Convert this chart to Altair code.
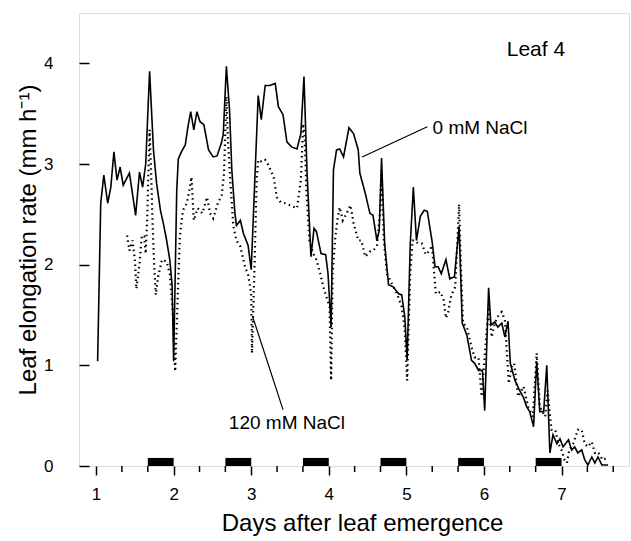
import altair as alt
import pandas as pd

# ---- data ----
days_0 = [1.02, 1.06, 1.10, 1.15, 1.19, 1.23, 1.27, 1.31, 1.35, 1.39, 1.43, 1.47, 1.51, 1.56, 1.60,
          1.64, 1.69, 1.74, 1.78, 1.83, 1.87, 1.91, 1.95, 1.98, 2.00, 2.04, 2.06, 2.10, 2.15, 2.18,
          2.22, 2.26, 2.30, 2.34, 2.39, 2.45, 2.51, 2.56, 2.62, 2.64, 2.68, 2.72, 2.75, 2.79, 2.81,
          2.86, 2.90, 2.96, 3.00, 3.05, 3.09, 3.13, 3.18, 3.24, 3.31, 3.35, 3.41, 3.46, 3.52, 3.59,
          3.64, 3.68, 3.72, 3.77, 3.81, 3.84, 3.90, 3.96, 3.99, 4.03, 4.06, 4.10, 4.14, 4.19, 4.26,
          4.32, 4.38, 4.40, 4.47, 4.53, 4.57, 4.62, 4.65, 4.68, 4.72, 4.77, 4.83, 4.90, 4.94, 4.98,
          5.01, 5.05, 5.09, 5.13, 5.18, 5.23, 5.27, 5.33, 5.37, 5.41, 5.45, 5.51, 5.56, 5.62, 5.68,
          5.72, 5.78, 5.84, 5.88, 5.93, 5.98, 6.01, 6.06, 6.09, 6.14, 6.18, 6.23, 6.27, 6.31, 6.34,
          6.40, 6.46, 6.51, 6.55, 6.59, 6.64, 6.68, 6.72, 6.77, 6.81, 6.85, 6.89, 6.94, 6.98, 7.02,
          7.09, 7.13, 7.17, 7.21, 7.26, 7.30, 7.34, 7.39, 7.43, 7.47, 7.52, 7.60]
rate_0 = [1.04, 2.61, 2.89, 2.61, 2.77, 3.12, 2.84, 2.97, 2.79, 2.85, 2.91, 2.70, 2.49, 2.92, 2.77,
          3.00, 3.92, 3.14, 2.81, 2.54, 2.40, 2.24, 2.05, 1.80, 1.04, 2.74, 3.05, 3.12, 3.19, 3.35,
          3.52, 3.34, 3.52, 3.42, 3.39, 3.14, 3.07, 3.08, 3.22, 3.30, 3.97, 3.54, 2.94, 2.51, 2.39,
          2.44, 2.31, 2.19, 1.95, 2.91, 3.68, 3.44, 3.78, 3.78, 3.80, 3.57, 3.49, 3.22, 3.17, 3.15,
          3.30, 3.87, 2.91, 2.08, 2.36, 2.33, 2.11, 2.10, 1.91, 1.38, 2.94, 3.14, 3.15, 3.07, 3.36,
          3.30, 3.14, 2.91, 2.71, 2.51, 2.49, 2.24, 2.34, 3.06, 2.21, 1.80, 1.78, 1.71, 1.70, 1.48,
          1.05, 2.20, 2.77, 2.24, 2.48, 2.54, 2.53, 2.24, 1.98, 1.98, 1.91, 2.05, 1.86, 1.88, 2.38,
          1.42, 1.30, 1.05, 1.02, 0.95, 0.95, 0.55, 1.77, 1.40, 1.43, 1.38, 1.42, 1.28, 1.44, 1.02,
          0.85, 0.75, 0.68, 0.59, 0.54, 0.39, 1.04, 0.54, 0.54, 1.00, 0.13, 0.31, 0.22, 0.27, 0.19,
          0.26, 0.16, 0.19, 0.13, 0.16, 0.06, 0.01, 0.09, 0.03, 0.09, 0.01, 0.01]

days_120 = [1.40, 1.43, 1.47, 1.50, 1.52, 1.56, 1.59, 1.62, 1.64, 1.66, 1.69, 1.71, 1.73, 1.75, 1.77,
            1.80, 1.85, 1.91, 1.95, 1.99, 2.02, 2.06, 2.08, 2.12, 2.17, 2.21, 2.23, 2.26, 2.31, 2.37,
            2.43, 2.47, 2.51, 2.57, 2.62, 2.65, 2.68, 2.70, 2.73, 2.77, 2.81, 2.86, 2.92, 2.96, 3.00,
            3.01, 3.04, 3.07, 3.09, 3.14, 3.18, 3.22, 3.29, 3.33, 3.38, 3.44, 3.50, 3.59, 3.64, 3.67,
            3.69, 3.71, 3.75, 3.80, 3.84, 3.89, 3.93, 3.97, 4.01, 4.03, 4.05, 4.08, 4.11, 4.14, 4.18,
            4.23, 4.28, 4.32, 4.38, 4.42, 4.47, 4.53, 4.57, 4.62, 4.66, 4.68, 4.71, 4.75, 4.82, 4.88,
            4.94, 4.98, 5.01, 5.05, 5.08, 5.11, 5.15, 5.20, 5.25, 5.30, 5.33, 5.38, 5.44, 5.48, 5.51,
            5.54, 5.58, 5.63, 5.68, 5.70, 5.73, 5.78, 5.84, 5.88, 5.93, 5.97, 6.06, 6.10, 6.14, 6.19,
            6.23, 6.27, 6.30, 6.32, 6.36, 6.39, 6.44, 6.51, 6.57, 6.63, 6.68, 6.72, 6.79, 6.82, 6.87,
            6.92, 6.96, 7.00, 7.04, 7.07, 7.10, 7.15, 7.21, 7.26, 7.30, 7.34, 7.39, 7.43, 7.47, 7.53,
            7.58]
rate_120 = [2.29, 2.14, 2.24, 2.05, 1.76, 2.01, 2.29, 2.28, 2.11, 2.48, 3.34, 2.91, 2.38, 1.98, 1.70,
            1.88, 2.05, 2.03, 1.91, 1.52, 0.94, 1.85, 2.28, 2.54, 2.61, 2.77, 2.87, 2.44, 2.56, 2.51,
            2.67, 2.51, 2.46, 2.61, 2.69, 2.91, 3.67, 3.24, 2.84, 2.38, 2.24, 2.18, 1.98, 1.90, 1.71,
            1.12, 1.91, 2.84, 3.04, 3.02, 3.04, 2.99, 2.87, 2.67, 2.62, 2.61, 2.59, 2.56, 2.84, 3.40,
            3.27, 2.74, 2.24, 2.11, 2.05, 1.91, 1.78, 1.68, 1.58, 0.85, 1.91, 2.24, 2.44, 2.57, 2.44,
            2.51, 2.59, 2.41, 2.24, 2.24, 2.08, 2.13, 2.14, 2.18, 2.51, 2.94, 2.24, 1.91, 1.80, 1.71,
            1.58, 1.35, 0.85, 1.91, 2.24, 2.24, 2.21, 2.21, 2.10, 2.14, 2.19, 1.71, 1.73, 1.65, 1.47,
            1.53, 1.70, 1.78, 2.60, 2.05, 1.42, 1.38, 1.18, 1.08, 1.08, 0.69, 1.58, 1.28, 1.42, 1.50,
            1.53, 1.45, 1.08, 0.82, 0.99, 1.02, 0.69, 0.79, 0.59, 0.49, 1.12, 0.59, 0.49, 0.75, 0.36,
            0.36, 0.22, 0.16, 0.06, 0.03, 0.16, 0.22, 0.36, 0.36, 0.22, 0.19, 0.24, 0.13, 0.14, 0.06,
            0.08]

night_start = [1.667, 2.667, 3.667, 4.667, 5.667, 6.667]
night_end = [2.0, 3.0, 4.0, 5.0, 6.0, 7.0]
night_height = 0.08

x_major_ticks = [1, 2, 3, 4, 5, 6, 7]
x_minor_ticks = [1 + k / 3 for k in range(21) if k % 3 != 0]
y_tick_values = [0, 1, 2, 3, 4]

title_text = ["Leaf 4"]
title_day = [6.67]
title_rate = [4.13]

labels_text = ["0 mM NaCl", "120 mM NaCl"]
labels_day = [5.95, 3.46]
labels_rate = [3.36, 0.43]

leader_day = [4.43, 3.02]
leader_rate = [3.07, 1.48]
leader_day2 = [5.27, 3.41]
leader_rate2 = [3.37, 0.56]

FONT = "Liberation Sans"

df0 = pd.DataFrame({"day": days_0, "rate": rate_0})
df120 = pd.DataFrame({"day": days_120, "rate": rate_120})
dfn = pd.DataFrame({"day": night_start, "day2": night_end,
                    "rate": [0.0] * len(night_start), "rate2": [night_height] * len(night_start)})
dft = pd.DataFrame({"day": title_day, "rate": title_rate, "text": title_text})
dfl = pd.DataFrame({"day": labels_day, "rate": labels_rate, "text": labels_text})
dfr = pd.DataFrame({"day": leader_day, "rate": leader_rate, "day2": leader_day2, "rate2": leader_rate2})
dfm = pd.DataFrame({"day": x_minor_ticks})

x_enc = alt.X(
    "day:Q",
    scale=alt.Scale(domain=[0.78, 7.87], nice=False, zero=False),
    axis=alt.Axis(
        values=x_major_ticks, format="d", tickSize=9,
        tickColor="black", tickWidth=1.5, domain=False, grid=False,
        labelFont=FONT, labelFontSize=17, labelColor="black", labelPadding=11,
        title="Days after leaf emergence", titleFont=FONT, titleFontSize=24,
        titleFontWeight="normal", titleColor="black", titlePadding=9, titleX=283,
    ),
)
y_enc = alt.Y(
    "rate:Q",
    scale=alt.Scale(domain=[0, 4.5], nice=False),
    axis=alt.Axis(
        values=y_tick_values, format="d", offset=-10, tickSize=10,
        tickColor="black", tickWidth=1.5, domain=False, grid=False,
        labelFont=FONT, labelFontSize=17, labelColor="black", labelPadding=26,
        title="Leaf elongation rate  (mm h⁻¹)", titleFont=FONT, titleFontSize=24,
        titleFontWeight="normal", titleColor="black", titlePadding=3,
    ),
)

nights = alt.Chart(dfn).mark_rect(color="black").encode(
    x=x_enc, x2="day2:Q", y=y_enc, y2="rate2:Q")

minor = alt.Chart(dfm).mark_rule(color="black", strokeWidth=1.5).encode(
    x=x_enc, y=alt.value(453), y2=alt.value(459))

line0 = alt.Chart(df0).mark_line(color="black", strokeWidth=1.6).encode(
    x=x_enc, y=y_enc, order="day:Q")

line120 = alt.Chart(df120).mark_line(color="black", strokeWidth=2.2, strokeDash=[1.5, 3.5]).encode(
    x=x_enc, y=y_enc, order="day:Q")

leaders = alt.Chart(dfr).mark_rule(color="black", strokeWidth=1.2).encode(
    x=x_enc, y=y_enc, x2="day2:Q", y2="rate2:Q")

title_mark = alt.Chart(dft).mark_text(font=FONT, fontSize=21, color="black", align="center",
                                      baseline="middle").encode(x=x_enc, y=y_enc, text="text:N")

texts = alt.Chart(dfl).mark_text(font=FONT, fontSize=19, color="black", align="center",
                                 baseline="middle").encode(x=x_enc, y=y_enc, text="text:N")

chart = alt.layer(nights, minor, line120, line0, leaders, title_mark, texts).properties(
    width=550, height=453,
    autosize=alt.AutoSizeParams(type="none"),
    padding={"left": 79, "top": 13, "right": 2, "bottom": 75},
).configure_view(stroke="black", strokeWidth=1.5).configure(background="white")

chart.save("out.html", embed_options={"renderer": "svg", "actions": False})
